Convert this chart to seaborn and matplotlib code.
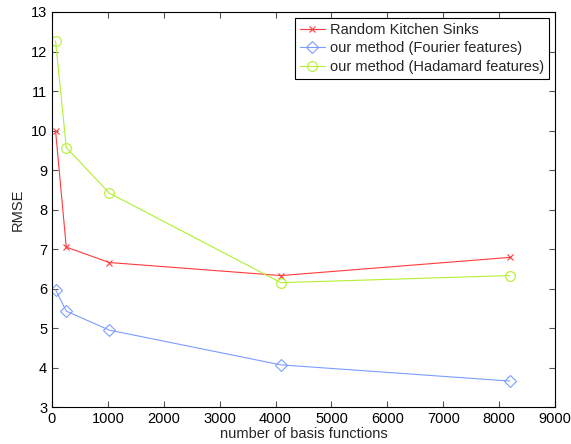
import seaborn as sns
import matplotlib.pyplot as plt

n_basis = [64, 256, 1024, 4096, 8192]
rks = [10.0, 7.05, 6.66, 6.33, 6.79]
fourier = [5.97, 5.43, 4.95, 4.07, 3.66]
hadamard = [12.27, 9.57, 8.42, 6.15, 6.33]

labels = ["Random Kitchen Sinks",
          "our method (Fourier features)",
          "our method (Hadamard features)"]
colors = ["#ff3b3b", "#7c9dff", "#b2f02e"]
marks = ["x", "D", "o"]
msizes = [5, 6, 7]


def main():
    sns.set_theme(style="ticks")
    plt.rcParams['font.family'] = ['Liberation Sans', 'DejaVu Sans']
    plt.rcParams['font.size'] = 10.5

    fig = plt.figure(figsize=(5.71, 4.44), dpi=100)
    ax = fig.add_axes([0.091, 0.083, 0.881, 0.890])
    for y, lab, c, m, ms in zip([rks, fourier, hadamard], labels, colors,
                                marks, msizes):
        sns.lineplot(x=n_basis, y=y, label=lab, color=c, marker=m,
                     markersize=ms, markerfacecolor="none", markeredgecolor=c,
                     markeredgewidth=0.8, linewidth=0.8, ax=ax)

    ax.set_xlim(0, 9000)
    ax.set_ylim(3, 13)
    ax.set_xticks(range(0, 9001, 1000))
    ax.set_yticks(range(3, 14))
    ax.tick_params(direction="in", top=True, right=True, length=4,
                   width=0.8, labelsize=10.5, labelcolor="black",
                   color="#555555")
    for s in ax.spines.values():
        s.set_visible(True)
        s.set_linewidth(0.8)
        s.set_color("black")
    ax.set_xlabel("number of basis functions", fontsize=10.5, labelpad=1)
    ax.set_ylabel("RMSE", fontsize=10.5)

    leg = ax.legend(loc="upper right", fontsize=10.5, fancybox=False,
                    edgecolor="black", framealpha=1, borderaxespad=0.4,
                    handlelength=1.7, handletextpad=0.35, labelspacing=0.3,
                    borderpad=0.35)
    leg.get_frame().set_linewidth(0.8)

    fig.savefig("out.png", dpi=100)


if __name__ == "__main__":
    main()
